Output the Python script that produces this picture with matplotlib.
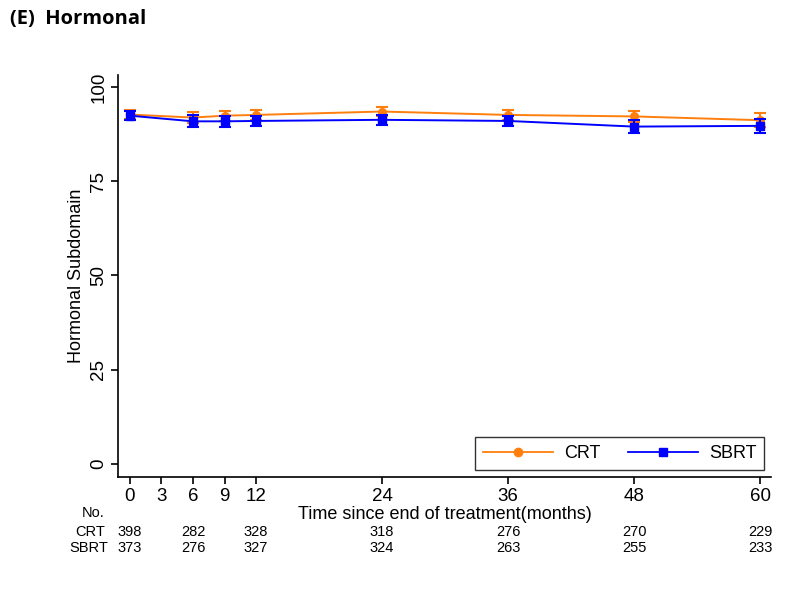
import matplotlib
matplotlib.use("Agg")
import matplotlib.pyplot as plt
from matplotlib.lines import Line2D

plt.rcParams['font.family'] = ['Liberation Sans', 'DejaVu Sans']

# data
months = [0, 6, 9, 12, 24, 36, 48, 60]
crt_mean = [92.7, 91.9, 92.4, 92.6, 93.5, 92.6, 92.2, 91.2]
crt_err = [1.2, 1.4, 1.3, 1.3, 1.3, 1.3, 1.5, 1.8]
sbrt_mean = [92.4, 90.9, 90.9, 91.0, 91.3, 91.0, 89.5, 89.7]
sbrt_err = [1.2, 1.6, 1.5, 1.4, 1.4, 1.4, 1.7, 1.9]

xticks = [0, 3, 6, 9, 12, 24, 36, 48, 60]
yticks = [0, 25, 50, 75, 100]

risk_times = [0, 6, 12, 24, 36, 48, 60]
crt_n = [398, 282, 328, 318, 276, 270, 229]
sbrt_n = [373, 276, 327, 324, 263, 255, 233]

ORANGE = "#ff7f0e"
BLUE = "#0000ff"

fig = plt.figure(figsize=(8, 5.96), dpi=100)
ax = fig.add_axes([0.148, 0.2002, 0.8155, 0.674])

ax.errorbar(months, crt_mean, yerr=crt_err, color=ORANGE, marker="o", ms=5.5,
            lw=1.4, capsize=4, elinewidth=1.5, capthick=1.5, zorder=3)
ax.errorbar(months, sbrt_mean, yerr=sbrt_err, color=BLUE, marker="s", ms=5.5,
            lw=1.4, capsize=4, elinewidth=1.5, capthick=1.5, zorder=4)

ax.set_xlim(-1.1, 61.0)
ax.set_ylim(-3.4, 103.2)
ax.set_xticks(xticks)
ax.set_yticks(yticks)
ax.tick_params(axis='x', labelsize=13.5, length=5, width=1.2, pad=3)
ax.tick_params(axis='y', labelsize=13.5, length=5, width=1.2, pad=3)
for lab in ax.get_yticklabels():
    lab.set_rotation(90)
    lab.set_va('center')

ax.spines['top'].set_visible(False)
ax.spines['right'].set_visible(False)
ax.spines['left'].set_linewidth(1.2)
ax.spines['bottom'].set_linewidth(1.2)

ax.set_ylabel("Hormonal Subdomain", fontsize=13, labelpad=4)
ax.set_xlabel("Time since end of treatment(months)", fontsize=13, labelpad=1)

handles = [Line2D([], [], color=ORANGE, marker="o", ms=6, lw=1.3),
           Line2D([], [], color=BLUE, marker="s", ms=6, lw=1.3)]
leg = ax.legend(handles, ["CRT", "SBRT"], loc="lower right", ncol=2, fontsize=13,
                frameon=True, fancybox=False, edgecolor="black",
                handlelength=3.9, handletextpad=0.6, columnspacing=1.5,
                borderaxespad=0.35, borderpad=0.45)
leg.get_frame().set_linewidth(1.0)

# number at risk table
fig.text(93 / 800, 1 - 513 / 596, "No.", fontsize=10.5, ha="center", va="center")
fig.text(90 / 800, 1 - 532 / 596, "CRT", fontsize=10.5, ha="center", va="center")
fig.text(89 / 800, 1 - 548 / 596, "SBRT", fontsize=10.5, ha="center", va="center")
trans = ax.get_xaxis_transform()
for t, a, b in zip(risk_times, crt_n, sbrt_n):
    ax.text(t, -(532 - 476.7) / 401.7, str(a), transform=trans, fontsize=10.5,
            ha="center", va="center")
    ax.text(t, -(548 - 476.7) / 401.7, str(b), transform=trans, fontsize=10.5,
            ha="center", va="center")

fig.text(10 / 800, 1 - 19 / 596, "(E)  Hormonal", fontsize=14.5, fontweight="bold",
         family=["Open Sans", "DejaVu Sans"], ha="left", va="center")

fig.savefig("out.png", dpi=100, facecolor="white")
